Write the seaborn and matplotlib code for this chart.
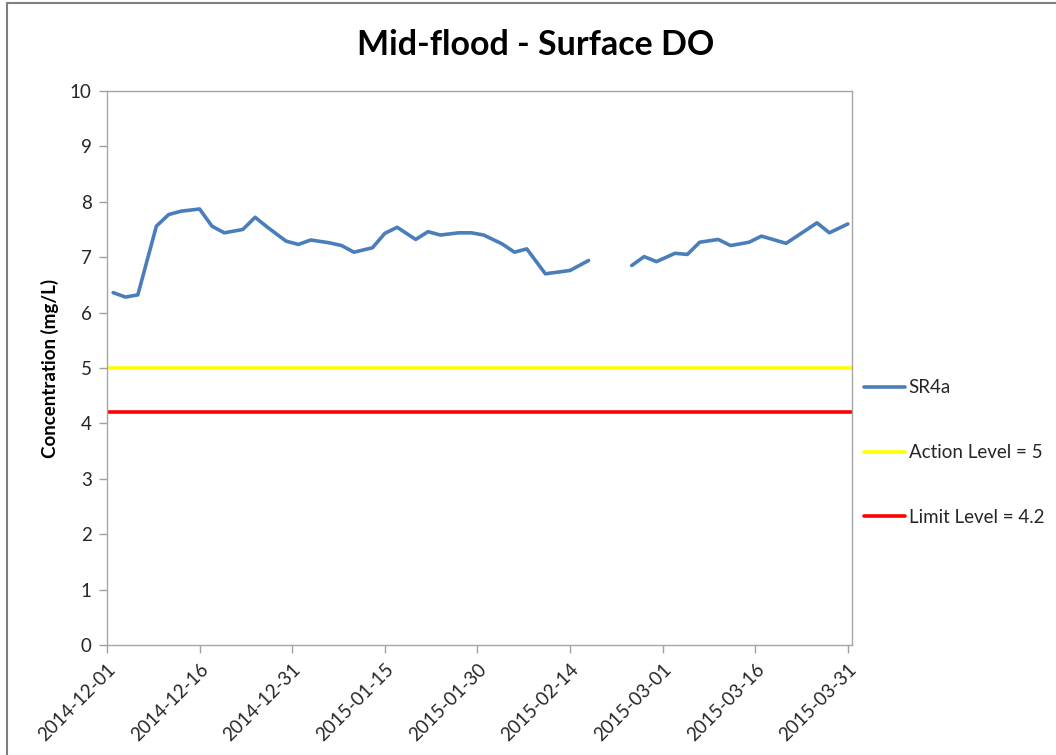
import matplotlib
matplotlib.use("Agg")
import matplotlib.pyplot as plt
import matplotlib.dates as mdates
from matplotlib.lines import Line2D
import numpy as np
import pandas as pd
import seaborn as sns

# SR4a surface DO readings (mg/L)
dates = [
    "2014-12-02", "2014-12-04", "2014-12-06", "2014-12-09", "2014-12-11", "2014-12-13",
    "2014-12-16", "2014-12-18", "2014-12-20", "2014-12-23", "2014-12-25", "2014-12-27",
    "2014-12-30", "2015-01-01", "2015-01-03", "2015-01-06", "2015-01-08", "2015-01-10",
    "2015-01-13", "2015-01-15", "2015-01-17", "2015-01-20", "2015-01-22", "2015-01-24",
    "2015-01-27", "2015-01-29", "2015-01-31", "2015-02-03", "2015-02-05", "2015-02-07",
    "2015-02-10", "2015-02-14", "2015-02-17", "2015-02-21", "2015-02-24", "2015-02-26",
    "2015-02-28", "2015-03-03", "2015-03-05", "2015-03-07", "2015-03-10", "2015-03-12",
    "2015-03-15", "2015-03-17", "2015-03-21", "2015-03-26", "2015-03-28", "2015-03-31",
]
sr4a = [
    6.36, 6.28, 6.32, 7.56, 7.77, 7.83,
    7.87, 7.56, 7.44, 7.50, 7.72, 7.54,
    7.29, 7.23, 7.31, 7.26, 7.21, 7.09,
    7.17, 7.43, 7.54, 7.32, 7.46, 7.40,
    7.44, 7.44, 7.40, 7.24, 7.09, 7.15,
    6.70, 6.76, 6.94, np.nan, 6.85, 7.01,
    6.92, 7.07, 7.05, 7.27, 7.32, 7.21,
    7.27, 7.38, 7.25, 7.62, 7.44, 7.60,
]
action_level = 5.0
limit_level = 4.2
tick_dates = pd.date_range("2014-12-01", periods=9, freq="15D")

sns.set_theme(style="white")
plt.rcParams["font.family"] = ["Lato", "DejaVu Sans"]

df = pd.DataFrame({"date": pd.to_datetime(dates), "do": sr4a})
# missing reading breaks the line into two segments
df["segment"] = df["do"].isna().cumsum()
df = df.dropna()

fig = plt.figure(figsize=(10.56, 7.55), dpi=100)
ax = fig.add_axes([0.1013, 0.1457, 0.7055, 0.7338])

blue = "#4A7EBB"
lw = 2.6
sns.lineplot(data=df, x="date", y="do", units="segment", estimator=None,
             color=blue, linewidth=lw, ax=ax, legend=False)
ax.axhline(action_level, color="#FFFF00", linewidth=lw)
ax.axhline(limit_level, color="#FF0000", linewidth=lw)

ax.set_ylim(0, 10)
ax.set_yticks(range(0, 11))
ax.set_xlim(pd.Timestamp("2014-12-01"), pd.Timestamp("2015-03-31") + pd.Timedelta(hours=16))
ax.set_xticks(tick_dates)
ax.xaxis.set_major_formatter(mdates.DateFormatter("%Y-%m-%d"))
for lab in ax.get_xticklabels():
    lab.set_rotation(45)
    lab.set_ha("right")
    lab.set_rotation_mode("anchor")

ax.tick_params(axis="both", which="major", direction="out", length=6, width=1,
               color="#A0A0A0", labelsize=13.5, labelcolor="#262626", pad=5)
ax.tick_params(left=True, bottom=True)
for s in ax.spines.values():
    s.set_color("#A6A6A6")
    s.set_linewidth(1)

ax.set_xlabel("")
ax.set_ylabel("Concentration (mg/L)", fontsize=13.5, fontweight="bold", color="black", labelpad=8)
fig.suptitle("Mid-flood - Surface DO", x=0.507, y=0.962, fontsize=24.5, fontweight="bold", color="black")

handles = [
    Line2D([], [], color=blue, linewidth=lw),
    Line2D([], [], color="#FFFF00", linewidth=lw),
    Line2D([], [], color="#FF0000", linewidth=lw),
]
fig.legend(handles, ["SR4a", "Action Level = 5", "Limit Level = 4.2"],
           loc="upper left", bbox_to_anchor=(0.802, 0.52), frameon=False,
           fontsize=13.5, handlelength=2.2, handletextpad=0.2, labelspacing=2.55,
           labelcolor="#262626")

# outer chart border (left and top edges visible)
fig.add_artist(Line2D([7 / 1056, 7 / 1056], [0, 1 - 3 / 755], transform=fig.transFigure,
                      color="#7F7F7F", linewidth=1.5))
fig.add_artist(Line2D([7 / 1056, 1], [1 - 3 / 755, 1 - 3 / 755], transform=fig.transFigure,
                      color="#7F7F7F", linewidth=1.5))

fig.savefig("out.png", dpi=100, facecolor="white")
